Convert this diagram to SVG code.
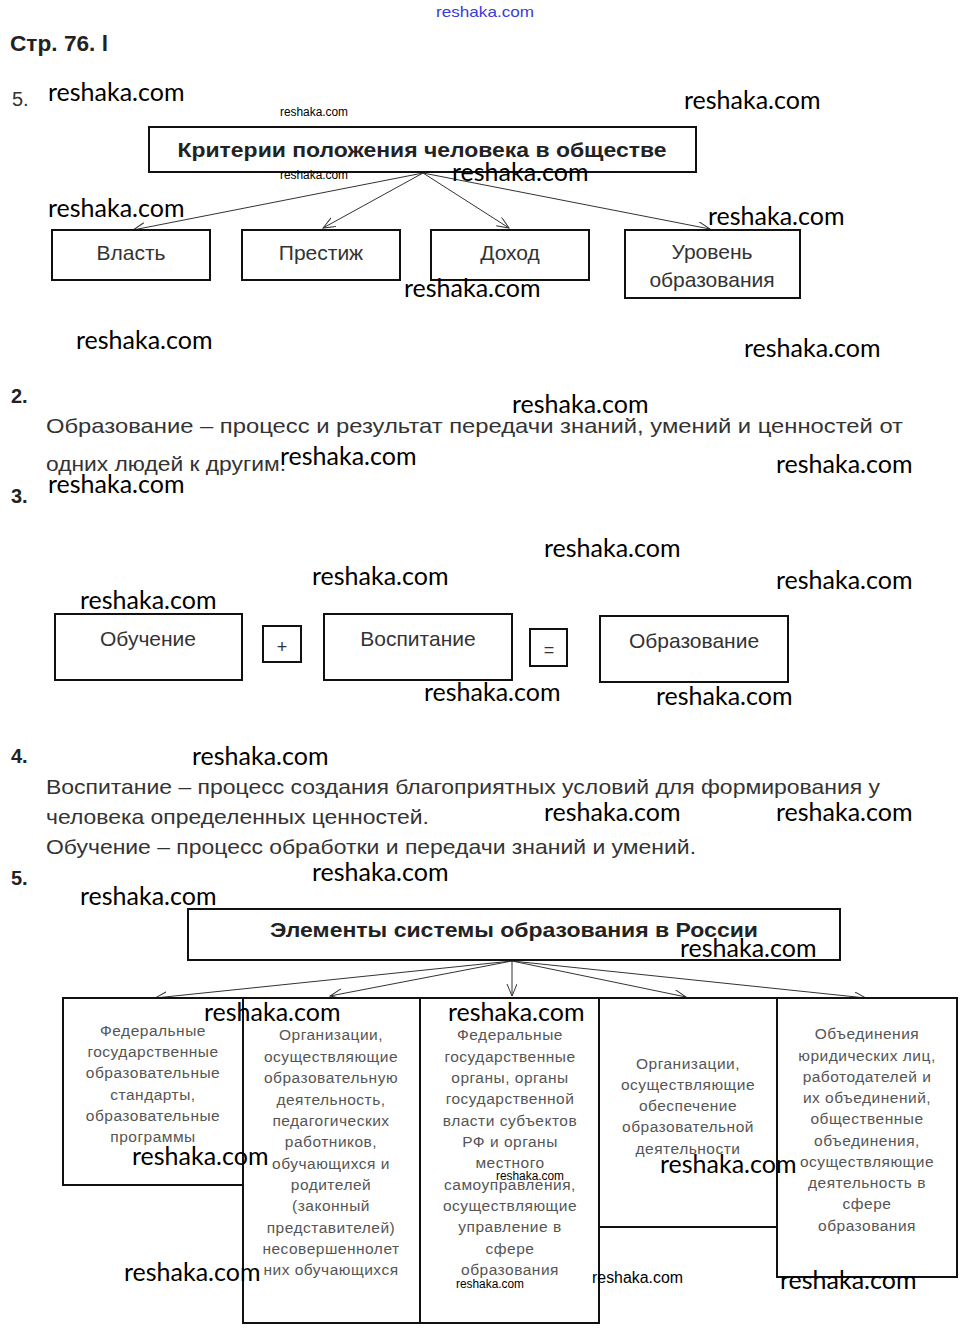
<svg xmlns="http://www.w3.org/2000/svg" width="967" height="1341" viewBox="0 0 967 1341">
<defs>
<style>
.bg{fill:#fff}
.box{fill:#fff;stroke:#111;stroke-width:2}
.wm{font-family:Lato,"Open Sans",sans-serif;font-size:25px;fill:#000}
.wms{font-family:"Liberation Sans",Arial,sans-serif;font-size:12px;fill:#000}
.num{font-family:"Liberation Sans",Arial,sans-serif;font-size:20px;font-weight:bold;fill:#222}
.para{font-family:"Liberation Sans",Arial,sans-serif;font-size:21px;fill:#333}
.lbl{font-family:"Liberation Sans",Arial,sans-serif;font-size:21px;fill:#333;text-anchor:middle}
.ttl{font-family:"Liberation Sans",Arial,sans-serif;font-size:20px;font-weight:bold;fill:#222;text-anchor:middle}
.sm{font-family:"Liberation Sans",Arial,sans-serif;font-size:15.5px;letter-spacing:0.5px;fill:#555;text-anchor:middle}
.con{stroke:#333;stroke-width:1;fill:none}
</style>
<marker id="arr" markerUnits="userSpaceOnUse" markerWidth="14" markerHeight="12" refX="12" refY="5" orient="auto">
<path d="M0,0 L12,5 L0,10" fill="none" stroke="#333" stroke-width="1"/>
</marker>
</defs>
<rect class="bg" x="0" y="0" width="967" height="1341"/>

<text x="436" y="17" style="font-family:'Liberation Sans',Arial,sans-serif;font-size:15px;fill:#3a3ad8" textLength="98" lengthAdjust="spacingAndGlyphs">reshaka.com</text>
<text class="num" x="10" y="51" style="font-size:22px" textLength="98" lengthAdjust="spacingAndGlyphs">Стр. 76. l</text>
<text x="12" y="106" style="font-family:'Liberation Sans',Arial,sans-serif;font-size:20px;fill:#333">5.</text>

<!-- Section 1 -->
<g id="conn1">
<line class="con" x1="423" y1="173" x2="133" y2="230" marker-end="url(#arr)"/>
<line class="con" x1="423" y1="173" x2="323" y2="228" marker-end="url(#arr)"/>
<line class="con" x1="423" y1="173" x2="509" y2="228" marker-end="url(#arr)"/>
<line class="con" x1="423" y1="173" x2="710" y2="229" marker-end="url(#arr)"/>
</g>
<g id="crit">
<rect class="box" x="149" y="127" width="547" height="45"/>
<text class="ttl" x="422" y="157" textLength="489" lengthAdjust="spacingAndGlyphs">Критерии положения человека в обществе</text>
</g>
<g id="vlast">
<rect class="box" x="52" y="230" width="158" height="50"/>
<text class="lbl" x="131" y="260">Власть</text>
</g>
<g id="prestizh">
<rect class="box" x="242" y="230" width="158" height="50"/>
<text class="lbl" x="321" y="260">Престиж</text>
</g>
<g id="dohod">
<rect class="box" x="431" y="230" width="158" height="50"/>
<text class="lbl" x="510" y="260">Доход</text>
</g>
<g id="uroven">
<rect class="box" x="625" y="230" width="175" height="68"/>
<text class="lbl" x="712" y="259">Уровень</text>
<text class="lbl" x="712" y="287">образования</text>
</g>

<!-- Section 2 -->
<text class="num" x="11" y="403">2.</text>
<text class="para" x="46" y="433" textLength="857" lengthAdjust="spacingAndGlyphs">Образование – процесс и результат передачи знаний, умений и ценностей от</text>
<text class="para" x="46" y="471" textLength="240" lengthAdjust="spacingAndGlyphs">одних людей к другим.</text>

<!-- Section 3 -->
<text class="num" x="11" y="503">3.</text>
<g id="obuchenie">
<rect class="box" x="55" y="614" width="187" height="66"/>
<text class="lbl" x="148" y="646">Обучение</text>
</g>
<g id="plus">
<rect class="box" x="263" y="626" width="38" height="36"/>
<text class="lbl" x="282" y="653" style="font-size:18px">+</text>
</g>
<g id="vospitanie">
<rect class="box" x="324" y="614" width="188" height="66"/>
<text class="lbl" x="418" y="646">Воспитание</text>
</g>
<g id="eq">
<rect class="box" x="530" y="629" width="37" height="37"/>
<text class="lbl" x="549" y="656" style="font-size:18px">=</text>
</g>
<g id="obrazovanie">
<rect class="box" x="600" y="616" width="188" height="66"/>
<text class="lbl" x="694" y="648">Образование</text>
</g>

<!-- Section 4 -->
<text class="num" x="11" y="763">4.</text>
<text class="para" x="46" y="794" textLength="834" lengthAdjust="spacingAndGlyphs">Воспитание – процесс создания благоприятных условий для формирования у</text>
<text class="para" x="46" y="824" textLength="383" lengthAdjust="spacingAndGlyphs">человека определенных ценностей.</text>
<text class="para" x="46" y="854" textLength="650" lengthAdjust="spacingAndGlyphs">Обучение – процесс обработки и передачи знаний и умений.</text>

<!-- Section 5 -->
<text class="num" x="11" y="885">5.</text>
<g id="conn5">
<line class="con" x1="512" y1="961" x2="155" y2="998" marker-end="url(#arr)"/>
<line class="con" x1="512" y1="961" x2="330" y2="996" marker-end="url(#arr)"/>
<line class="con" x1="512" y1="961" x2="512" y2="996" marker-end="url(#arr)"/>
<line class="con" x1="512" y1="961" x2="686" y2="997" marker-end="url(#arr)"/>
<line class="con" x1="512" y1="961" x2="866" y2="998" marker-end="url(#arr)"/>
</g>
<g id="elem">
<rect class="box" x="188" y="909" width="652" height="51"/>
<text class="ttl" x="514" y="937" textLength="488" lengthAdjust="spacingAndGlyphs">Элементы системы образования в России</text>
</g>
<g id="fgos">
<rect class="box" x="63" y="998" width="180" height="187"/>
<text class="sm" x="153" y="1036">Федеральные</text>
<text class="sm" x="153" y="1057">государственные</text>
<text class="sm" x="153" y="1078">образовательные</text>
<text class="sm" x="153" y="1100">стандарты,</text>
<text class="sm" x="153" y="1121">образовательные</text>
<text class="sm" x="153" y="1142">программы</text>
</g>
<g id="org1">
<rect class="box" x="243" y="998" width="177" height="325"/>
<text class="sm" x="331" y="1040">Организации,</text>
<text class="sm" x="331" y="1062">осуществляющие</text>
<text class="sm" x="331" y="1083">образовательную</text>
<text class="sm" x="331" y="1105">деятельность,</text>
<text class="sm" x="331" y="1126">педагогических</text>
<text class="sm" x="331" y="1147">работников,</text>
<text class="sm" x="331" y="1169">обучающихся и</text>
<text class="sm" x="331" y="1190">родителей</text>
<text class="sm" x="331" y="1211">(законный</text>
<text class="sm" x="331" y="1233">представителей)</text>
<text class="sm" x="331" y="1254">несовершеннолет</text>
<text class="sm" x="331" y="1275">них обучающихся</text>
</g>
<g id="organy">
<rect class="box" x="420" y="998" width="179" height="325"/>
<text class="sm" x="510" y="1040">Федеральные</text>
<text class="sm" x="510" y="1062">государственные</text>
<text class="sm" x="510" y="1083">органы, органы</text>
<text class="sm" x="510" y="1104">государственной</text>
<text class="sm" x="510" y="1126">власти субъектов</text>
<text class="sm" x="510" y="1147">РФ и органы</text>
<text class="sm" x="510" y="1168">местного</text>
<text class="sm" x="510" y="1190">самоуправления,</text>
<text class="sm" x="510" y="1211">осуществляющие</text>
<text class="sm" x="510" y="1232">управление в</text>
<text class="sm" x="510" y="1254">сфере</text>
<text class="sm" x="510" y="1275">образования</text>
</g>
<g id="org2">
<rect class="box" x="599" y="998" width="178" height="229"/>
<text class="sm" x="688" y="1069">Организации,</text>
<text class="sm" x="688" y="1090">осуществляющие</text>
<text class="sm" x="688" y="1111">обеспечение</text>
<text class="sm" x="688" y="1132">образовательной</text>
<text class="sm" x="688" y="1154">деятельности</text>
</g>
<g id="obed">
<rect class="box" x="777" y="998" width="180" height="279"/>
<text class="sm" x="867" y="1039">Объединения</text>
<text class="sm" x="867" y="1061">юридических лиц,</text>
<text class="sm" x="867" y="1082">работодателей и</text>
<text class="sm" x="867" y="1103">их объединений,</text>
<text class="sm" x="867" y="1124">общественные</text>
<text class="sm" x="867" y="1146">объединения,</text>
<text class="sm" x="867" y="1167">осуществляющие</text>
<text class="sm" x="867" y="1188">деятельность в</text>
<text class="sm" x="867" y="1209">сфере</text>
<text class="sm" x="867" y="1231">образования</text>
</g>

<!-- watermarks -->
<g id="watermarks">
<text class="wm" x="48" y="101">reshaka.com</text>
<text class="wm" x="684" y="109">reshaka.com</text>
<text class="wms" x="280" y="116" textLength="68" lengthAdjust="spacingAndGlyphs">reshaka.com</text>
<text class="wms" x="280" y="179" textLength="68" lengthAdjust="spacingAndGlyphs">reshaka.com</text>
<text class="wm" x="452" y="181">reshaka.com</text>
<text class="wm" x="48" y="217">reshaka.com</text>
<text class="wm" x="708" y="225">reshaka.com</text>
<text class="wm" x="404" y="297">reshaka.com</text>
<text class="wm" x="76" y="349">reshaka.com</text>
<text class="wm" x="744" y="357">reshaka.com</text>
<text class="wm" x="512" y="413">reshaka.com</text>
<text class="wm" x="280" y="465">reshaka.com</text>
<text class="wm" x="776" y="473">reshaka.com</text>
<text class="wm" x="48" y="493">reshaka.com</text>
<text class="wm" x="544" y="557">reshaka.com</text>
<text class="wm" x="312" y="585">reshaka.com</text>
<text class="wm" x="776" y="589">reshaka.com</text>
<text class="wm" x="80" y="609">reshaka.com</text>
<text class="wm" x="424" y="701">reshaka.com</text>
<text class="wm" x="656" y="705">reshaka.com</text>
<text class="wm" x="192" y="765">reshaka.com</text>
<text class="wm" x="544" y="821">reshaka.com</text>
<text class="wm" x="776" y="821">reshaka.com</text>
<text class="wm" x="312" y="881">reshaka.com</text>
<text class="wm" x="80" y="905">reshaka.com</text>
<text class="wm" x="680" y="957">reshaka.com</text>
<text class="wm" x="204" y="1021">reshaka.com</text>
<text class="wm" x="448" y="1021">reshaka.com</text>
<text class="wm" x="132" y="1165">reshaka.com</text>
<text class="wms" x="496" y="1180" textLength="68" lengthAdjust="spacingAndGlyphs">reshaka.com</text>
<text class="wm" x="660" y="1173">reshaka.com</text>
<text class="wm" x="124" y="1281">reshaka.com</text>
<text class="wms" x="456" y="1288" textLength="68" lengthAdjust="spacingAndGlyphs">reshaka.com</text>
<text class="wms" x="592" y="1283" style="font-size:16px" textLength="91" lengthAdjust="spacingAndGlyphs">reshaka.com</text>
<text class="wm" x="780" y="1289">reshaka.com</text>
</g>
</svg>
